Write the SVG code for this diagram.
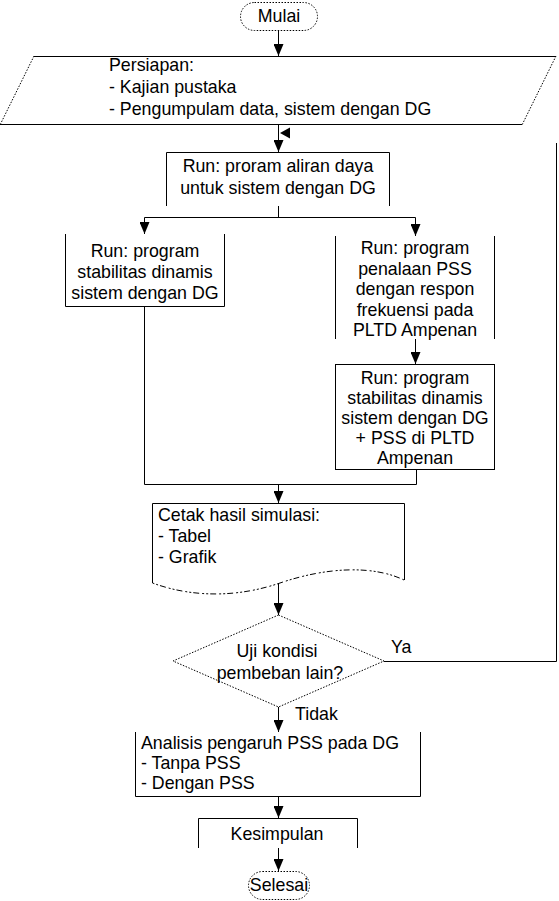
<svg xmlns="http://www.w3.org/2000/svg" width="559" height="901" viewBox="0 0 559 901">
<style>
.t{font-family:"Liberation Sans",Arial,sans-serif;font-size:17.8px;fill:#000}
.c{text-anchor:middle}
.ln{stroke:#000;stroke-width:1;fill:none}
.bx{stroke:none;fill:#fff}
.dot{stroke:#000;stroke-width:1;fill:#fff;stroke-dasharray:1.5 1.5}
.dash{stroke:#000;stroke-width:1;fill:none;stroke-dasharray:2 2 2 2 6 3}
</style>
<defs>
<marker id="ah" viewBox="0 0 12 10" markerWidth="12" markerHeight="10" refX="12" refY="5" orient="auto" markerUnits="userSpaceOnUse">
<path d="M0,0 L12,5 L0,10 Z" fill="#000"/>
</marker>
</defs>
<rect width="559" height="901" fill="#fff"/>

<g id="connectors">
<path class="ln" d="M278.5,31 V56" marker-end="url(#ah)"/>
<path class="ln" d="M278.5,125 V152" marker-end="url(#ah)"/>
<path class="ln" d="M278.5,206 V217.5"/>
<path class="ln" d="M144.5,217.5 H415.5"/>
<path class="ln" d="M144.5,217.5 V234" marker-end="url(#ah)"/>
<path class="ln" d="M415.5,217.5 V236" marker-end="url(#ah)"/>
<path class="ln" d="M415.5,339 V364" marker-end="url(#ah)"/>
<path class="ln" d="M144.5,307 V484.5 H416.5 V469"/>
<path class="ln" d="M278.5,484.5 V503" marker-end="url(#ah)"/>
<path class="ln" d="M278.5,583 V615" marker-end="url(#ah)"/>
<path class="ln" d="M278.5,707 V732" marker-end="url(#ah)"/>
<path class="ln" d="M278.5,797 V818" marker-end="url(#ah)"/>
<path class="ln" d="M278.5,848 V871" marker-end="url(#ah)"/>
<path class="ln" d="M384,661.5 H556.5 V143"/>
<path d="M280,133 L290,127.5 L290,138.5 Z" fill="#000"/>
<text class="t" x="391" y="653">Ya</text>
<text class="t" x="295" y="720">Tidak</text>
</g>

<g id="mulai">
<rect class="dot" x="240.5" y="2.5" width="77" height="28" rx="14"/>
<text class="t c" x="279" y="22">Mulai</text>
</g>

<g id="persiapan">
<path class="bx" d="M34,56 H556 L522,125 H0 Z"/>
<path class="ln" d="M34,56.5 H556 M0,124.5 H522"/>
<path class="ln" d="M34,56 L0,125 M556,56 L522,125" style="stroke-dasharray:1.5 1.5"/>
<text class="t" x="109" y="71">Persiapan:</text>
<text class="t" x="109" y="93">- Kajian pustaka</text>
<text class="t" x="109" y="115">- Pengumpulam data, sistem dengan DG</text>
</g>

<g id="aliran-daya">
<rect class="bx" x="166" y="152" width="223" height="54"/>
<path class="ln" d="M166.5,206 V152.5 H389.5 V206"/>
<text class="t c" x="278" y="172">Run: proram aliran daya</text>
<text class="t c" x="278" y="194">untuk sistem dengan DG</text>
</g>

<g id="stabilitas-dg">
<rect class="bx" x="65" y="234" width="159" height="73"/>
<path class="ln" d="M65.5,234 V306.5 H224.5 V234"/>
<text class="t c" x="145" y="257">Run: program</text>
<text class="t c" x="145" y="278">stabilitas dinamis</text>
<text class="t c" x="145" y="299">sistem dengan DG</text>
</g>

<g id="penalaan-pss">
<rect class="bx" x="335" y="236" width="159" height="103"/>
<path class="ln" d="M335.5,236 V339 M494.5,236 V339"/>
<text class="t c" x="415" y="254">Run: program</text>
<text class="t c" x="415" y="274.5">penalaan PSS</text>
<text class="t c" x="415" y="295">dengan respon</text>
<text class="t c" x="415" y="315.5">frekuensi pada</text>
<text class="t c" x="415" y="336">PLTD Ampenan</text>
</g>

<g id="stabilitas-pss">
<rect class="ln" x="335.5" y="364.5" width="159" height="105" fill="#fff"/>
<text class="t c" x="415" y="384">Run: program</text>
<text class="t c" x="415" y="404">stabilitas dinamis</text>
<text class="t c" x="415" y="424">sistem dengan DG</text>
<text class="t c" x="415" y="444">+ PSS di PLTD</text>
<text class="t c" x="415" y="464">Ampenan</text>
</g>

<g id="cetak">
<path class="bx" d="M152.5,503.5 H404 V580 C375,566 330,566 280,583 C230,600 185,595 152.5,583 Z"/>
<path class="ln" d="M152.5,583 V503.5 H404.5 V580"/>
<path class="dash" d="M152.5,583 C185,595 230,600 280,583 C330,566 375,566 404,580"/>
<text class="t" x="158" y="521">Cetak hasil simulasi:</text>
<text class="t" x="158" y="542">- Tabel</text>
<text class="t" x="158" y="563">- Grafik</text>
</g>

<g id="uji-kondisi">
<path class="dot" d="M278.5,615 L384,661 L278.5,707 L173,661 Z"/>
<text class="t c" x="277" y="657">Uji kondisi</text>
<text class="t c" x="280" y="679">pembeban lain?</text>
</g>

<g id="analisis">
<rect class="bx" x="135" y="732" width="286" height="65"/>
<path class="ln" d="M135.5,732 V796.5 H420.5 V732"/>
<text class="t" x="141" y="749">Analisis pengaruh PSS pada DG</text>
<text class="t" x="141" y="769">- Tanpa PSS</text>
<text class="t" x="141" y="789">- Dengan PSS</text>
</g>

<g id="kesimpulan">
<rect class="bx" x="198" y="818" width="159" height="30"/>
<path class="ln" d="M198.5,848 V818.5 H357.5 V848"/>
<text class="t c" x="277" y="840">Kesimpulan</text>
</g>

<g id="selesai">
<rect class="dot" x="248.5" y="871.5" width="61" height="28" rx="14"/>
<text class="t c" x="279" y="891">Selesai</text>
</g>
</svg>
